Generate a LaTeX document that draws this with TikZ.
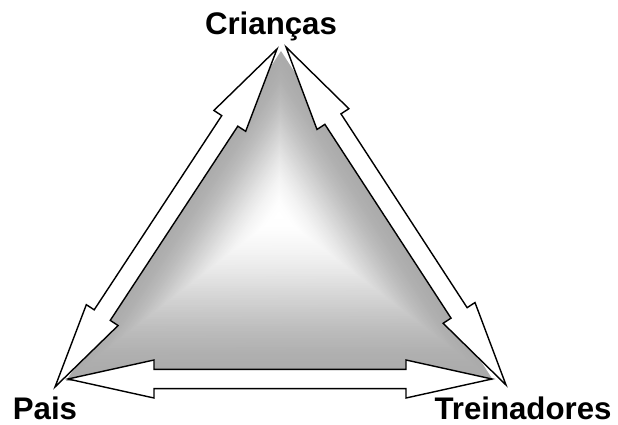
\documentclass[tikz,border=0pt]{standalone}
\usepackage{fontspec}
\setsansfont{Liberation Sans}
\usetikzlibrary{calc}

\begin{document}
\begin{tikzpicture}[x=0.025cm, y=-0.025cm,
  font=\sffamily\bfseries\fontsize{22.2}{26}\selectfont]
\tikzset{role/.style = {anchor=base, inner sep=0pt},
  blockarrow/.style = {draw, fill=white, line width=1pt}}

  \useasboundingbox (0,0) rectangle (618,425);

  % the three roles
  \node[role] (kids) at (271,35) {Crianças};
  \node[role] (parents) at (45,419) {Pais};
  \node[role] (coaches) at (523,419) {Treinadores};

  % corners of the triangle
  \coordinate (tA) at (281,51);
  \coordinate (tB) at (66,381);
  \coordinate (tC) at (493,380);
  \coordinate (mid) at (279,215);

  % shaded triangle, grey at the rim, white in the middle
  \foreach \i in {0,...,69} {
    \pgfmathsetmacro{\sc}{1-\i/70}
    \pgfmathsetmacro{\gr}{33*(3*\sc*\sc-2*\sc*\sc*\sc)}
    \fill[black!\gr] ($(mid)!\sc!(tA)$) -- ($(mid)!\sc!(tB)$)
      -- ($(mid)!\sc!(tC)$) -- cycle;
  }

  % arrow ends
  \coordinate (kidsL) at (277,49);
  \coordinate (kidsR) at (286,47);
  \coordinate (parentsU) at (55,387);
  \coordinate (parentsR) at (68,379);
  \coordinate (coachesL) at (492,379);
  \coordinate (coachesU) at (506,385);

  \foreach \a/\b in {parentsU/kidsL, kidsR/coachesU, parentsR/coachesL} {
    \draw[blockarrow] (\a)
      -- ($(\a)!2.15cm!(\b)!0.475cm!90:(\b)$)
      -- ($(\a)!2.15cm!(\b)!0.24cm!90:(\b)$)
      -- ($(\b)!2.15cm!(\a)!0.24cm!-90:(\a)$)
      -- ($(\b)!2.15cm!(\a)!0.475cm!-90:(\a)$)
      -- (\b)
      -- ($(\b)!2.15cm!(\a)!0.475cm!90:(\a)$)
      -- ($(\b)!2.15cm!(\a)!0.24cm!90:(\a)$)
      -- ($(\a)!2.15cm!(\b)!0.24cm!-90:(\b)$)
      -- ($(\a)!2.15cm!(\b)!0.475cm!-90:(\b)$)
      -- cycle;
  }

\end{tikzpicture}
\end{document}
